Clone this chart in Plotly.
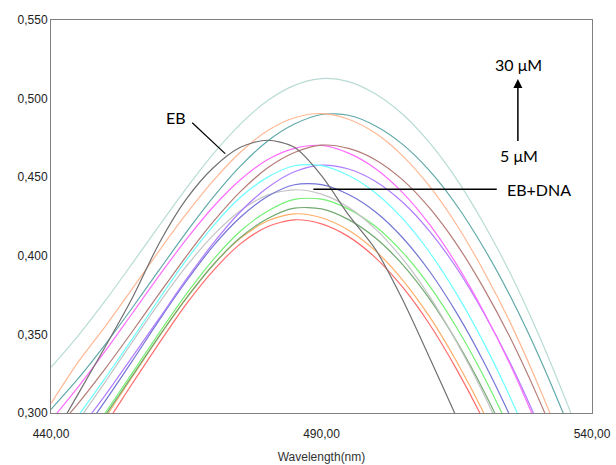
import plotly.graph_objects as go

wavelength = [440, 445, 450, 455, 460, 465, 470, 475, 480, 485, 490,
              495, 500, 505, 510, 515, 520, 525, 530, 535, 540]

eb_wavelength = [440, 445, 450, 455, 460, 465, 470, 475, 480, 485, 490,
                 495, 500, 505, 510, 515, 520]
eb = [0.282, 0.312, 0.342, 0.373, 0.408, 0.436, 0.456, 0.469, 0.4735, 0.469, 0.451,
      0.426, 0.404, 0.372, 0.335, 0.297, 0.258]

light_teal = [0.3290, 0.3491, 0.3713, 0.3950, 0.4192, 0.4429, 0.4648, 0.4838, 0.4986, 0.5084, 0.5127,
              0.5108, 0.5029, 0.4900, 0.4718, 0.4486, 0.4204, 0.3881, 0.3509, 0.3095, 0.2650]
salmon = [0.3060, 0.3323, 0.3550, 0.3789, 0.4032, 0.4266, 0.4478, 0.4659, 0.4795, 0.4878, 0.4905,
          0.4869, 0.4779, 0.4636, 0.4441, 0.4196, 0.3902, 0.3567, 0.3183, 0.2760, 0.2305]
teal = [0.3023, 0.3218, 0.3435, 0.3668, 0.3910, 0.4149, 0.4373, 0.4570, 0.4729, 0.4838, 0.4899,
        0.4894, 0.4826, 0.4709, 0.4540, 0.4320, 0.4050, 0.3736, 0.3376, 0.2972, 0.2534]
brown = [0.2860, 0.3060, 0.3281, 0.3517, 0.3759, 0.3997, 0.4217, 0.4408, 0.4558, 0.4657, 0.4704,
         0.4683, 0.4610, 0.4483, 0.4303, 0.4073, 0.3793, 0.3471, 0.3101, 0.2689, 0.2245]
magenta = [0.2953, 0.3164, 0.3393, 0.3633, 0.3874, 0.4104, 0.4312, 0.4484, 0.4611, 0.4683, 0.4702,
           0.4653, 0.4554, 0.4402, 0.4198, 0.3944, 0.3643, 0.3299, 0.2907, 0.2479, 0.2015]
cyan = [0.2765, 0.2981, 0.3221, 0.3470, 0.3726, 0.3972, 0.4191, 0.4372, 0.4499, 0.4573, 0.4574,
        0.4511, 0.4400, 0.4236, 0.4021, 0.3756, 0.3446, 0.3091, 0.2691, 0.2256, 0.1781]
purple = [0.2685, 0.2887, 0.3112, 0.3356, 0.3602, 0.3850, 0.4080, 0.4280, 0.4433, 0.4535, 0.4577,
          0.4552, 0.4473, 0.4341, 0.4156, 0.3921, 0.3636, 0.3310, 0.2935, 0.2519, 0.2072]
blue = [0.2622, 0.2835, 0.3076, 0.3330, 0.3591, 0.3838, 0.4063, 0.4245, 0.4377, 0.4452, 0.4453,
        0.4390, 0.4279, 0.4115, 0.3900, 0.3635, 0.3325, 0.2970, 0.2570, 0.2135, 0.1660]
light_gray = [0.2724, 0.2951, 0.3196, 0.3450, 0.3700, 0.3932, 0.4132, 0.4287, 0.4386, 0.4420, 0.4392,
              0.4308, 0.4170, 0.3980, 0.3740, 0.3450, 0.3120, 0.2740, 0.2320, 0.1870, 0.1370]
green = [0.2545, 0.2761, 0.3000, 0.3254, 0.3510, 0.3756, 0.3976, 0.4156, 0.4284, 0.4359, 0.4360,
         0.4297, 0.4186, 0.4022, 0.3807, 0.3542, 0.3232, 0.2877, 0.2477, 0.2042, 0.1567]
dark_green = [0.2526, 0.2744, 0.2984, 0.3236, 0.3489, 0.3729, 0.3943, 0.4116, 0.4236, 0.4303, 0.4298,
              0.4230, 0.4113, 0.3944, 0.3724, 0.3454, 0.3140, 0.2780, 0.2376, 0.1938, 0.1458]
orange = [0.2495, 0.2721, 0.2969, 0.3229, 0.3488, 0.3731, 0.3944, 0.4111, 0.4221, 0.4267, 0.4242,
          0.4163, 0.4031, 0.3846, 0.3611, 0.3326, 0.3000, 0.2625, 0.2209, 0.1762, 0.1267]
red = [0.2445, 0.2674, 0.2922, 0.3186, 0.3445, 0.3693, 0.3906, 0.4076, 0.4185, 0.4229, 0.4203,
       0.4122, 0.3987, 0.3800, 0.3563, 0.3276, 0.2949, 0.2572, 0.2154, 0.1706, 0.1209]

series = [
    ("red", red, "#ff6b6b"),
    ("orange", orange, "#ffae66"),
    ("dark_green", dark_green, "#72aa72"),
    ("green", green, "#74f074"),
    ("light_gray", light_gray, "#c4c4c4"),
    ("blue", blue, "#7474d6"),
    ("purple", purple, "#b07cff"),
    ("cyan", cyan, "#6cffff"),
    ("magenta", magenta, "#ff6cff"),
    ("brown", brown, "#b47c76"),
    ("teal", teal, "#62a9a9"),
    ("salmon", salmon, "#ffb894"),
    ("light_teal", light_teal, "#b8dcd5"),
]

y_ticks = [0.300, 0.350, 0.400, 0.450, 0.500, 0.550]
y_tick_text = ["0,300", "0,350", "0,400", "0,450", "0,500", "0,550"]
x_ticks = [440, 490, 540]
x_tick_text = ["440,00", "490,00", "540,00"]

fig = go.Figure()
for name, vals, col in series:
    fig.add_trace(go.Scatter(x=wavelength, y=vals, mode="lines", name=name,
                             line=dict(color=col, width=1.2, shape="spline", smoothing=0.8)))
fig.add_trace(go.Scatter(x=eb_wavelength, y=eb, mode="lines", name="EB",
                         line=dict(color="#707070", width=1.2, shape="spline", smoothing=0.8)))

ann_font = dict(family="Lato, Open Sans, sans-serif", size=16, color="black")

# EB pointer
fig.add_shape(type="line", x0=466.1, y0=0.4846, x1=472.2, y1=0.4650,
              line=dict(color="black", width=1.2))
fig.add_annotation(x=463.1, y=0.4878, text="EB", showarrow=False, font=ann_font)

# EB+DNA pointer
fig.add_shape(type="line", x0=488.5, y0=0.4423, x1=522.4, y1=0.4423,
              line=dict(color="black", width=1.5))
fig.add_annotation(x=523.9, y=0.4423, text="EB+DNA", showarrow=False, xanchor="left",
                   font=ann_font)

# concentration arrow
fig.add_annotation(x=526.3, y=0.5125, ax=526.3, ay=0.4720, axref="x", ayref="y",
                   xref="x", yref="y", text="", showarrow=True, arrowhead=2,
                   arrowsize=1.2, arrowwidth=1.5, arrowcolor="black")
fig.add_annotation(x=526.5, y=0.5215, text="30 μM", showarrow=False, font=ann_font)
fig.add_annotation(x=526.5, y=0.4640, text="5 μM", showarrow=False, font=ann_font)

axis_font = dict(family="Liberation Sans, Arial, sans-serif", size=12, color="#222222")

fig.update_layout(
    width=616, height=465,
    margin=dict(l=51, r=24, t=20, b=52, autoexpand=False),
    paper_bgcolor="white", plot_bgcolor="white",
    showlegend=False,
    xaxis=dict(range=[440, 540], tickvals=x_ticks, ticktext=x_tick_text,
               automargin=False,
               showgrid=False, zeroline=False, showline=True, linecolor="#808080",
               linewidth=1, mirror=True, ticks="", tickfont=axis_font,
               ticklabelstandoff=10,
               title=dict(text="Wavelength(nm)", font=dict(family="Liberation Sans, Arial, sans-serif",
                                                           size=12, color="#333333"), standoff=12)),
    yaxis=dict(range=[0.300, 0.550], tickvals=y_ticks, ticktext=y_tick_text,
               automargin=False,
               showgrid=False, zeroline=False, showline=True, linecolor="#808080",
               linewidth=1, mirror=True, ticks="", tickfont=axis_font),
)

fig.write_html("out.html")
